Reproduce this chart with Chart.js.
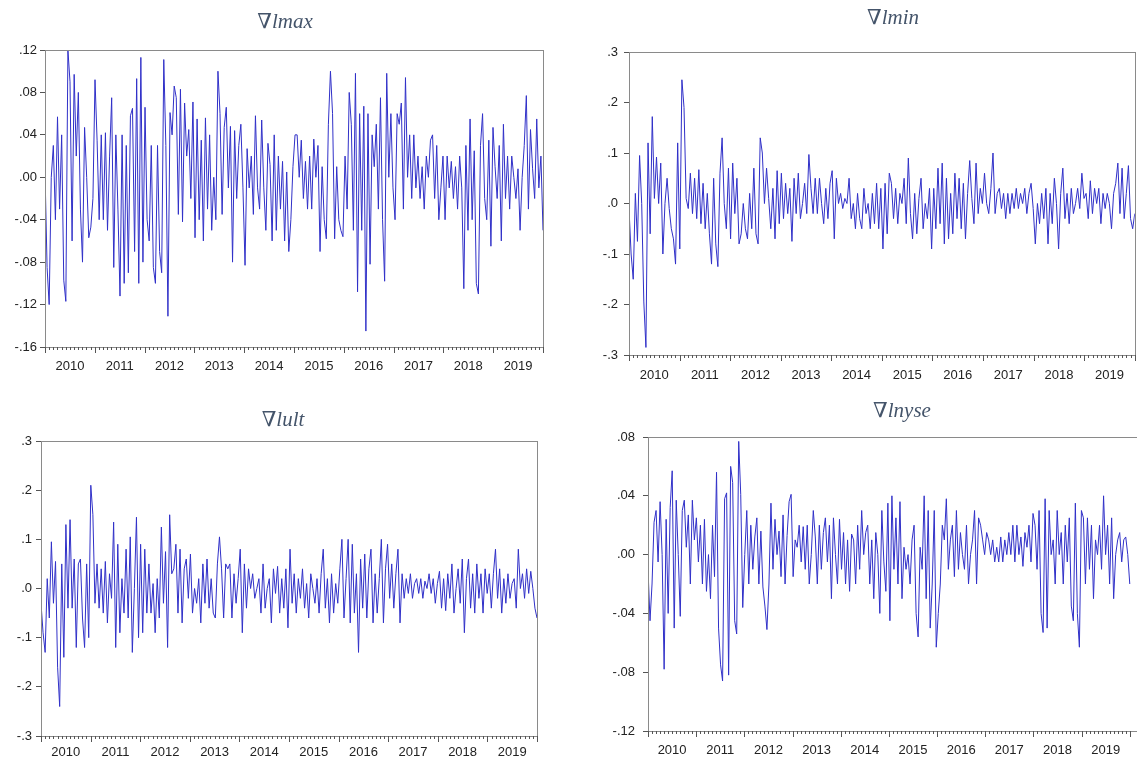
<!DOCTYPE html>
<html>
<head>
<meta charset="utf-8">
<script src="https://cdn.jsdelivr.net/npm/chart.js@4.4.0/dist/chart.umd.min.js"></script>
<style>
  body { margin: 0; background: #fff; width: 1137px; height: 762px; position: relative; overflow: hidden; }
  .panel { position: absolute; }
  .title { position: absolute; font: italic 21px 'Liberation Serif', 'DejaVu Serif', serif; color: #44546a; transform: translateX(-50%); white-space: nowrap; }
</style>
</head>
<body>
<div class="panel" style="left:0;top:0;width:560px;height:385px"><canvas id="c1"></canvas></div>
<div class="panel" style="left:575px;top:0;width:562px;height:390px"><canvas id="c2"></canvas></div>
<div class="panel" style="left:0;top:395px;width:545px;height:367px"><canvas id="c3"></canvas></div>
<div class="panel" style="left:580px;top:395px;width:557px;height:367px"><canvas id="c4"></canvas></div>
<div class="title" style="left:285px;top:9px">∇lmax</div>
<div class="title" style="left:893px;top:5px">∇lmin</div>
<div class="title" style="left:283px;top:407px">∇lult</div>
<div class="title" style="left:902px;top:398px">∇lnyse</div>
<script>
// year labels on the x axis
const years = ['2010', '2011', '2012', '2013', '2014', '2015', '2016', '2017', '2018', '2019'];

// weekly log changes (about two points a month)
const lmax = [
  0.005, -0.085, -0.12, 0.0, 0.03, -0.04, 0.057, -0.03, 0.04, -0.097, -0.117, 0.12, 0.09, -0.06, 0.097, 0.02, 0.08, -0.03, -0.08, 0.047, 0.0, -0.057, -0.047, -0.02,
  0.092, 0.035, -0.04, 0.04, -0.04, 0.042, -0.05, 0.02, 0.075, -0.085, 0.04, -0.03, -0.112, 0.04, -0.1, 0.03, -0.09, 0.058, 0.065, -0.07, 0.093, -0.1, 0.113, -0.08,
  0.066, -0.04, -0.06, 0.03, -0.085, -0.1, 0.03, -0.07, -0.09, 0.111, 0.03, -0.131, 0.061, 0.04, 0.086, 0.075, -0.035, 0.083, -0.042, 0.07, 0.02, 0.045, -0.02, 0.071,
  -0.057, 0.055, -0.04, 0.035, -0.06, 0.056, -0.03, 0.04, -0.05, 0.0, -0.04, 0.1, 0.06, -0.035, 0.047, 0.066, -0.01, 0.048, -0.08, 0.044, -0.02, 0.03, 0.05, -0.01,
  -0.083, 0.027, -0.01, 0.02, -0.035, 0.058, -0.01, -0.03, 0.054, -0.01, -0.05, 0.032, 0.012, -0.06, 0.04, -0.05, 0.02, -0.03, 0.015, -0.06, 0.005, -0.07, -0.04, 0.01,
  0.04, 0.04, 0.0, 0.035, -0.02, 0.015, -0.03, 0.02, -0.03, 0.036, 0.0, 0.03, -0.07, 0.01, -0.04, -0.058, 0.05, 0.1, 0.06, -0.058, 0.01, -0.04, -0.05, -0.056,
  0.02, -0.03, 0.08, 0.05, -0.05, 0.098, -0.108, 0.06, -0.05, 0.067, -0.145, 0.06, -0.082, 0.04, 0.01, 0.05, -0.03, 0.075, -0.04, -0.098, 0.098, 0.0, 0.06, -0.01,
  -0.04, 0.06, 0.05, 0.07, -0.03, 0.094, 0.0, 0.04, -0.02, 0.04, -0.01, 0.02, -0.02, 0.01, -0.03, 0.02, 0.0, 0.035, 0.04, -0.02, 0.03, -0.04, -0.01, 0.02,
  -0.04, 0.02, -0.01, 0.015, -0.02, 0.01, -0.03, 0.02, -0.01, -0.105, 0.03, -0.05, 0.055, -0.04, 0.025, -0.1, -0.11, 0.03, 0.06, -0.02, -0.04, 0.035, -0.065, 0.047,
  0.01, -0.02, 0.03, -0.06, 0.05, -0.02, 0.02, -0.03, 0.02, 0.0, -0.02, 0.008, -0.05, 0.0, 0.03, 0.077, -0.03, 0.045, 0.008, -0.02, 0.055, -0.01, 0.02, -0.05
];

const lmin = [
  -0.01, -0.1, -0.15, 0.02, -0.075, 0.095, 0.0, -0.195, -0.285, 0.12, -0.06, 0.172, 0.01, 0.092, 0.0, 0.08, -0.1, 0.0, 0.05, -0.01, -0.05, -0.07, -0.12, 0.12,
  -0.09, 0.245, 0.19, 0.01, -0.01, 0.06, -0.02, 0.05, -0.03, 0.067, -0.04, 0.04, -0.05, 0.02, -0.06, -0.12, 0.05, -0.08, -0.125, 0.06, 0.13, 0.0, -0.05, 0.07,
  -0.07, 0.08, -0.02, 0.05, -0.08, -0.06, 0.0, -0.05, -0.07, 0.02, -0.05, 0.07, -0.06, -0.08, 0.13, 0.1, 0.0, 0.07, 0.01, -0.05, 0.03, -0.07, 0.065, -0.04,
  0.06, -0.03, 0.04, -0.02, 0.03, -0.075, 0.05, -0.02, 0.06, -0.03, 0.0, 0.04, -0.02, 0.097, 0.03, -0.02, 0.05, -0.02, 0.05, 0.0, -0.04, 0.03, -0.03, 0.04,
  0.065, -0.07, 0.05, 0.0, 0.02, -0.01, 0.01, 0.0, 0.05, -0.03, 0.0, -0.05, 0.02, -0.03, -0.05, 0.03, -0.02, 0.0, -0.05, 0.02, -0.04, 0.04, -0.05, 0.03,
  -0.09, 0.04, -0.06, 0.06, 0.04, -0.03, 0.03, -0.04, 0.02, 0.0, 0.05, -0.04, 0.09, -0.02, -0.07, 0.02, -0.06, 0.01, 0.05, -0.05, 0.0, -0.03, 0.03, -0.09,
  0.03, -0.05, 0.07, -0.04, 0.08, -0.08, 0.05, -0.07, 0.02, -0.06, 0.06, -0.03, 0.05, -0.05, 0.04, -0.07, 0.02, 0.085, 0.01, -0.04, 0.08, -0.02, 0.03, 0.0,
  0.06, 0.0, -0.02, 0.03, 0.1, -0.02, 0.02, 0.03, -0.01, 0.02, -0.03, 0.02, -0.02, 0.02, -0.01, 0.03, -0.01, 0.02, 0.0, 0.03, -0.02, 0.02, 0.04, -0.01,
  -0.08, 0.0, -0.04, 0.02, -0.03, 0.03, -0.08, 0.02, -0.04, 0.05, 0.0, -0.09, 0.02, 0.07, -0.03, 0.02, -0.04, 0.03, -0.02, 0.0, 0.03, -0.01, 0.06, 0.01,
  0.02, -0.03, 0.045, -0.02, 0.03, 0.0, 0.03, -0.04, 0.02, -0.01, 0.02, 0.0, -0.05, 0.02, 0.04, 0.08, -0.02, 0.07, -0.03, 0.02, 0.075, -0.03, -0.05, -0.02
];

const lult = [
  -0.03, -0.09, -0.13, 0.02, -0.06, 0.095, -0.03, 0.055, -0.16, -0.24, 0.05, -0.14, 0.13, -0.04, 0.14, -0.04, 0.06, -0.12, 0.05, 0.06, -0.06, -0.12, 0.05, -0.1,
  0.21, 0.15, -0.03, 0.05, -0.04, 0.04, -0.05, 0.055, -0.07, 0.03, -0.02, 0.135, -0.12, 0.09, -0.09, 0.02, -0.05, 0.08, -0.06, 0.105, -0.13, 0.0, 0.145, -0.1,
  0.09, -0.09, 0.08, -0.05, 0.05, -0.05, 0.01, -0.09, 0.02, -0.06, 0.125, -0.03, 0.075, -0.12, 0.15, 0.03, 0.04, 0.09, -0.05, 0.08, -0.07, 0.04, 0.06, -0.02,
  0.07, -0.05, 0.0, -0.03, 0.02, -0.07, 0.05, -0.03, 0.06, -0.04, 0.02, -0.05, -0.06, 0.05, 0.105, 0.04, -0.06, 0.05, 0.04, 0.05, -0.06, 0.03, -0.03, 0.02,
  0.08, -0.09, 0.05, -0.04, 0.04, 0.0, 0.03, -0.02, 0.0, 0.02, -0.05, 0.05, -0.04, 0.0, 0.02, -0.07, 0.04, -0.01, 0.045, -0.05, 0.02, -0.04, 0.04, -0.08,
  0.08, -0.03, 0.03, -0.05, 0.02, -0.02, 0.04, -0.04, 0.01, -0.06, 0.03, 0.0, -0.03, 0.02, -0.05, 0.03, 0.08, -0.04, 0.02, -0.07, 0.03, -0.05, 0.01, -0.03,
  0.04, 0.1, -0.06, 0.02, 0.1, -0.07, 0.09, -0.05, 0.03, -0.13, 0.06, -0.04, 0.07, -0.06, 0.04, 0.08, -0.07, 0.03, -0.05, 0.02, 0.1, -0.07, 0.04, 0.09,
  -0.02, 0.05, -0.04, 0.03, 0.08, -0.07, 0.03, -0.02, 0.02, -0.01, 0.03, -0.02, 0.01, 0.02, -0.01, 0.02, -0.02, 0.015, 0.0, 0.03, -0.01, 0.02, -0.03, 0.01,
  0.035, -0.04, 0.02, -0.045, 0.03, -0.02, 0.05, -0.05, 0.0, 0.04, -0.03, 0.06, -0.09, 0.02, 0.06, -0.04, 0.03, -0.05, 0.05, -0.02, 0.03, -0.05, 0.04, -0.01,
  0.03, -0.04, 0.03, 0.08, -0.02, 0.04, -0.05, 0.02, -0.03, 0.03, -0.02, 0.01, 0.02, -0.04, 0.08, 0.0, 0.03, -0.02, 0.04, -0.01, 0.035, 0.0, -0.04, -0.06
];

const lnyse = [
  -0.01, -0.045, -0.02, 0.022, 0.03, -0.005, 0.036, 0.0, -0.078, 0.024, -0.04, 0.032, 0.057, -0.05, 0.037, 0.0, -0.042, 0.03, 0.037, 0.005, 0.027, -0.02, 0.037, 0.01,
  0.025, -0.005, 0.02, -0.02, 0.024, -0.025, 0.0, -0.03, 0.02, -0.015, 0.056, -0.05, -0.075, -0.086, 0.038, 0.042, -0.082, 0.06, 0.049, -0.045, -0.054, 0.077, 0.041, -0.036,
  0.0, 0.03, -0.02, 0.02, -0.01, 0.012, 0.025, -0.02, 0.016, -0.022, -0.035, -0.051, -0.02, 0.035, -0.01, 0.024, 0.0, 0.016, -0.015, 0.027, -0.02, 0.013, 0.036, 0.041,
  -0.015, 0.01, 0.005, 0.02, -0.005, 0.019, -0.01, 0.02, -0.02, 0.0, 0.03, 0.012, -0.02, 0.02, -0.01, 0.015, 0.025, -0.005, 0.02, -0.03, 0.025, 0.0, -0.02, 0.024,
  -0.01, 0.015, -0.02, 0.01, -0.025, 0.014, 0.01, -0.02, 0.02, -0.01, 0.03, 0.0, 0.015, 0.02, -0.02, 0.01, -0.03, 0.015, 0.0, -0.04, 0.03, -0.005, -0.025, 0.035,
  -0.045, 0.04, -0.01, 0.025, -0.02, 0.036, -0.03, 0.005, -0.01, 0.0, -0.02, 0.01, 0.02, -0.04, -0.056, 0.005, -0.01, 0.04, -0.03, 0.03, -0.05, -0.02, 0.03, -0.063,
  -0.04, -0.02, 0.02, 0.01, 0.038, -0.01, 0.01, 0.02, -0.015, 0.03, -0.01, 0.015, 0.0, -0.01, 0.02, -0.02, 0.0, 0.01, 0.03, -0.02, 0.025, 0.02, 0.01, 0.0,
  0.015, 0.01, 0.0, 0.01, -0.005, 0.005, -0.005, 0.012, -0.005, 0.01, 0.0, 0.015, 0.0, 0.02, -0.005, 0.02, 0.0, 0.012, -0.008, 0.015, 0.005, 0.02, -0.005, 0.028,
  0.02, -0.01, 0.03, -0.04, -0.053, 0.038, -0.05, 0.03, 0.0, 0.01, -0.02, 0.03, 0.0, 0.015, -0.02, 0.02, -0.005, 0.025, -0.035, -0.045, 0.035, -0.04, -0.063, 0.03,
  0.025, -0.02, 0.025, -0.01, 0.02, -0.03, 0.01, 0.0, 0.02, -0.01, 0.04, 0.0, 0.02, -0.02, 0.025, -0.03, 0.0, 0.01, 0.015, -0.005, 0.01, 0.012, 0.0, -0.02
];

Chart.defaults.font.family = "'Liberation Sans', Arial, sans-serif";
Chart.defaults.font.size = 13;
Chart.defaults.color = '#222';
Chart.defaults.animation = false;

// frame round the plot plus monthly / yearly tick marks under it (EViews look)
const frameTicks = {
  id: 'frameTicks',
  afterDraw(chart) {
    const { ctx, chartArea: a, scales: { x } } = chart;
    ctx.save();
    ctx.strokeStyle = '#8a8a8a';
    ctx.lineWidth = 1;
    ctx.strokeRect(Math.round(a.left) + 0.5, Math.round(a.top) + 0.5,
      Math.round(a.right - a.left), Math.round(a.bottom - a.top));
    ctx.strokeStyle = '#555';
    ctx.beginPath();
    for (let m = 0; m <= years.length * 12; m++) {
      const px = Math.round(x.getPixelForValue(2010 + m / 12)) + 0.5;
      if (px > a.right + 1) break;
      const len = m % 12 === 0 ? 6 : 3;
      ctx.moveTo(px, Math.round(a.bottom));
      ctx.lineTo(px, Math.round(a.bottom) + len);
    }
    ctx.stroke();
    ctx.restore();
  }
};

function makePanel(id, values, o) {
  const n = values.length;
  const pts = values.map((v, i) => ({ x: 2010 + years.length * i / (n - 1), y: v }));
  return new Chart(document.getElementById(id), {
    type: 'line',
    data: {
      datasets: [{
        data: pts,
        borderColor: '#3030c8',
        borderWidth: 1,
        pointRadius: 0,
        tension: 0,
        fill: false
      }]
    },
    options: {
      responsive: true,
      maintainAspectRatio: false,
      layout: { padding: { top: o.top, right: o.right, left: 0, bottom: 0 } },
      plugins: { legend: { display: false }, tooltip: { enabled: false } },
      scales: {
        x: {
          type: 'linear',
          min: 2010,
          max: o.xMax,
          border: { display: false },
          grid: { display: false, drawTicks: false },
          afterBuildTicks: s => { s.ticks = years.map((y, i) => ({ value: 2010 + i + 0.5 })); },
          afterFit: s => { s.height = o.xHeight; },
          ticks: {
            autoSkip: false,
            maxRotation: 0,
            padding: o.xPad,
            callback: (v, i) => years[i]
          }
        },
        y: {
          min: o.yMin,
          max: o.yMax,
          border: { display: false },
          grid: { drawOnChartArea: false, drawTicks: true, tickLength: 5, color: '#555' },
          afterFit: s => { s.width = o.yWidth; },
          ticks: {
            stepSize: o.step,
            padding: o.yPad,
            callback: v => v.toFixed(o.digits).replace('0.', '.')
          }
        }
      }
    },
    plugins: [frameTicks]
  });
}

makePanel('c1', lmax, { yMin: -0.16, yMax: 0.12, step: 0.04, digits: 2, xMax: 2020, top: 50, right: 17, xHeight: 38, xPad: 12, yWidth: 45, yPad: 3 });
makePanel('c2', lmin, { yMin: -0.3, yMax: 0.3, step: 0.1, digits: 1, xMax: 2020, top: 52, right: 1, xHeight: 35, xPad: 13, yWidth: 54, yPad: 6 });
makePanel('c3', lult, { yMin: -0.3, yMax: 0.3, step: 0.1, digits: 1, xMax: 2020, top: 46, right: 8, xHeight: 26, xPad: 9, yWidth: 41, yPad: 4 });
makePanel('c4', lnyse, { yMin: -0.12, yMax: 0.08, step: 0.04, digits: 2, xMax: 2020.15, top: 42, right: 0, xHeight: 31, xPad: 12, yWidth: 68, yPad: 8 });
</script>
</body>
</html>
